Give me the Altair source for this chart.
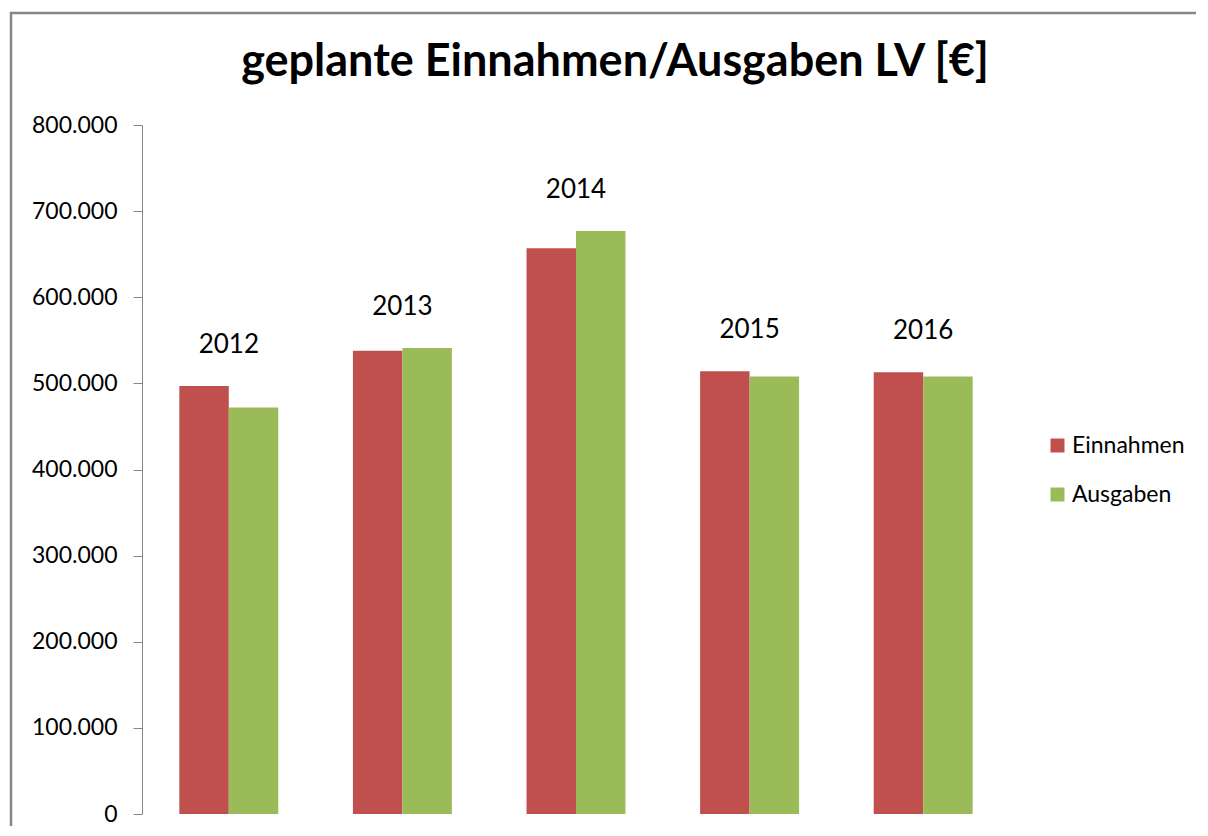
import altair as alt
import pandas as pd

years = ["2012", "2013", "2014", "2015", "2016"]
einnahmen = [497000, 538000, 657000, 514000, 513000]
ausgaben = [472000, 541000, 677000, 508000, 508000]
series = ["Einnahmen", "Ausgaben"]
colors = ["#C0504D", "#9BBB59"]
y_ticks = [0, 100000, 200000, 300000, 400000, 500000, 600000, 700000, 800000]

FONT = "Lato"

df = pd.DataFrame({"Jahr": years, "Einnahmen": einnahmen, "Ausgaben": ausgaben})

base = alt.Chart(df)

x_enc = alt.X("Jahr:N", sort=years, axis=None,
              scale=alt.Scale(paddingInner=0.43, paddingOuter=0.215))

bars = base.transform_fold(series, as_=["Reihe", "Wert"]).mark_bar().encode(
    x=x_enc,
    xOffset=alt.XOffset("Reihe:N", sort=series, scale=alt.Scale(paddingInner=0, paddingOuter=0)),
    y=alt.Y("Wert:Q",
            scale=alt.Scale(domain=[0, 800000], nice=False),
            axis=alt.Axis(values=y_ticks, title=None, grid=False,
                          domainColor="#868686", tickColor="#868686",
                          tickSize=9, labelPadding=16,
                          labelFont=FONT, labelFontSize=23, labelColor="#000000",
                          labelExpr="replace(format(datum.value, ','), ',', '.')")),
    color=alt.Color("Reihe:N", sort=series,
                    scale=alt.Scale(domain=series, range=colors),
                    legend=alt.Legend(title=None, orient="none", legendX=904, legendY=309,
                                      symbolType="square", symbolSize=196,
                                      symbolStrokeWidth=0, labelFont=FONT,
                                      labelFontSize=23, labelColor="#000000",
                                      labelOffset=3, rowPadding=25, padding=0)),
)

labels = base.transform_calculate(
    top="max(datum.Einnahmen, datum.Ausgaben)"
).mark_text(font=FONT, fontSize=26, color="#000000", dy=-41, baseline="middle").encode(
    x=alt.X("Jahr:N", sort=years),
    y=alt.Y("top:Q"),
    text="Jahr:N",
)

border = alt.Chart(alt.Data(values=[{"b": 1}])).mark_rect(
    fillOpacity=0, stroke="#868686", strokeWidth=2.5
).encode(
    x=alt.value(-131), y=alt.value(-112), x2=alt.value(1150), y2=alt.value(800)
)

chart = alt.layer(border, bars, labels).properties(
    width=868, height=689,
    title=alt.TitleParams("geplante Einnahmen/Ausgaben LV [€]", font=FONT,
                          fontSize=45, fontWeight="bold", color="#000000",
                          anchor="middle", frame="group", dx=39, offset=0,
                          baseline="alphabetic", dy=109),
    padding={"left": 134, "top": 117, "right": 186, "bottom": 12},
    autosize=alt.AutoSizeParams(type="none"),
).configure_view(stroke=None)

chart.save("out.html", embed_options={"renderer": "svg", "actions": False})
